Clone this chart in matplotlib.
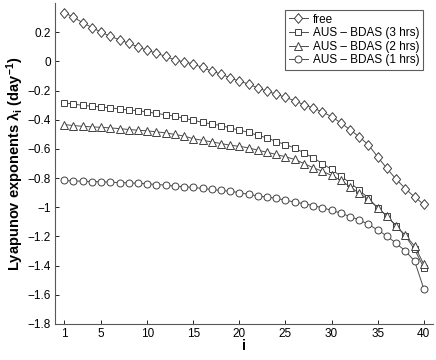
import numpy as np
import matplotlib
matplotlib.use("Agg")
import matplotlib.pyplot as plt

i_vals = list(range(1, 41))

free = [0.334, 0.303, 0.265, 0.232, 0.200, 0.172, 0.148, 0.124, 0.099, 0.076,
        0.056, 0.034, 0.010, -0.003, -0.018, -0.042, -0.067, -0.087, -0.113, -0.136,
        -0.155, -0.182, -0.205, -0.225, -0.247, -0.270, -0.297, -0.320, -0.347, -0.378,
        -0.422, -0.468, -0.518, -0.572, -0.655, -0.734, -0.808, -0.872, -0.930, -0.980]

bdas3 = [-0.285, -0.292, -0.302, -0.307, -0.312, -0.319, -0.326, -0.333, -0.338, -0.346,
         -0.357, -0.366, -0.376, -0.390, -0.404, -0.418, -0.429, -0.440, -0.456, -0.472,
         -0.486, -0.508, -0.524, -0.550, -0.570, -0.594, -0.627, -0.661, -0.700, -0.741,
         -0.787, -0.832, -0.882, -0.939, -1.003, -1.060, -1.128, -1.197, -1.288, -1.413]

bdas2 = [-0.433, -0.440, -0.445, -0.449, -0.452, -0.456, -0.461, -0.467, -0.472, -0.476,
         -0.483, -0.490, -0.501, -0.512, -0.530, -0.541, -0.552, -0.563, -0.575, -0.582,
         -0.593, -0.609, -0.623, -0.638, -0.654, -0.672, -0.700, -0.729, -0.753, -0.782,
         -0.816, -0.859, -0.905, -0.946, -1.003, -1.060, -1.128, -1.192, -1.265, -1.390]

bdas1 = [-0.816, -0.820, -0.821, -0.824, -0.825, -0.828, -0.831, -0.832, -0.836, -0.839,
         -0.844, -0.848, -0.855, -0.859, -0.864, -0.871, -0.878, -0.885, -0.890, -0.900,
         -0.912, -0.922, -0.930, -0.939, -0.951, -0.965, -0.975, -0.989, -1.003, -1.021,
         -1.040, -1.064, -1.087, -1.117, -1.156, -1.197, -1.247, -1.299, -1.368, -1.558]

labels = ["free", "AUS \u2013 BDAS (3 hrs)", "AUS \u2013 BDAS (2 hrs)", "AUS \u2013 BDAS (1 hrs)"]
diamond = [(0, 1), (0.85, 0), (0, -1), (-0.85, 0), (0, 1)]
markers = [diamond, "s", "^", "o"]
sizes = [7.0, 4.3, 5.6, 5.0]
xticks = [1, 5, 10, 15, 20, 25, 30, 35, 40]
yticks = [-1.8, -1.6, -1.4, -1.2, -1.0, -0.8, -0.6, -0.4, -0.2, 0.0, 0.2]
ytick_labels = ["\u22121.8", "\u22121.6", "\u22121.4", "\u22121.2", "\u22121", "\u22120.8",
                "\u22120.6", "\u22120.4", "\u22120.2", "0", "0.2"]

plt.rcParams['font.family'] = ['Liberation Sans', 'DejaVu Sans']
plt.rcParams['mathtext.fontset'] = 'custom'
plt.rcParams['mathtext.rm'] = 'Liberation Sans'
plt.rcParams['mathtext.bf'] = 'Liberation Sans:bold'

fig = plt.figure(figsize=(4.36, 3.6), dpi=100)
ax = fig.add_axes([55/436, 36/360, (433-55)/436, (324-3)/360])

for ys, lab, m, ms in zip([free, bdas3, bdas2, bdas1], labels, markers, sizes):
    ax.plot(i_vals, ys, color='0.3', linewidth=0.7, marker=m, markersize=ms,
            markerfacecolor='white', markeredgecolor='0.25', markeredgewidth=0.7,
            label=lab)

ax.set_xlim(0, 41)
ax.set_ylim(-1.8, 0.4)
ax.set_xticks(xticks)
ax.set_xticklabels([str(x) for x in xticks])
ax.set_yticks(yticks)
ax.set_yticklabels(ytick_labels)
ax.tick_params(direction='in', length=3, width=0.6, labelsize=8.5, colors='black', pad=3)
for s in ['top', 'right']:
    ax.spines[s].set_visible(False)
for s in ['left', 'bottom']:
    ax.spines[s].set_color('0.35')
    ax.spines[s].set_linewidth(0.8)

ax.set_xlabel('i', fontsize=10.5, fontweight='bold', labelpad=-1)
ax.set_ylabel(r'Lyapunov exponents $\mathbf{\lambda_i}$ $\mathbf{(day^{-1})}$', fontsize=10.5,
              fontweight='bold', labelpad=1)

leg = ax.legend(loc='upper right', bbox_to_anchor=(423/436, 1 - 10/360),
                bbox_transform=fig.transFigure, fontsize=8.5, frameon=True,
                fancybox=False, borderpad=0.3, labelspacing=0.14, handlelength=1.6,
                handletextpad=0.45, borderaxespad=0)
leg.get_frame().set_edgecolor('0.2')
leg.get_frame().set_linewidth(0.8)

fig.savefig('out.png', dpi=100)
